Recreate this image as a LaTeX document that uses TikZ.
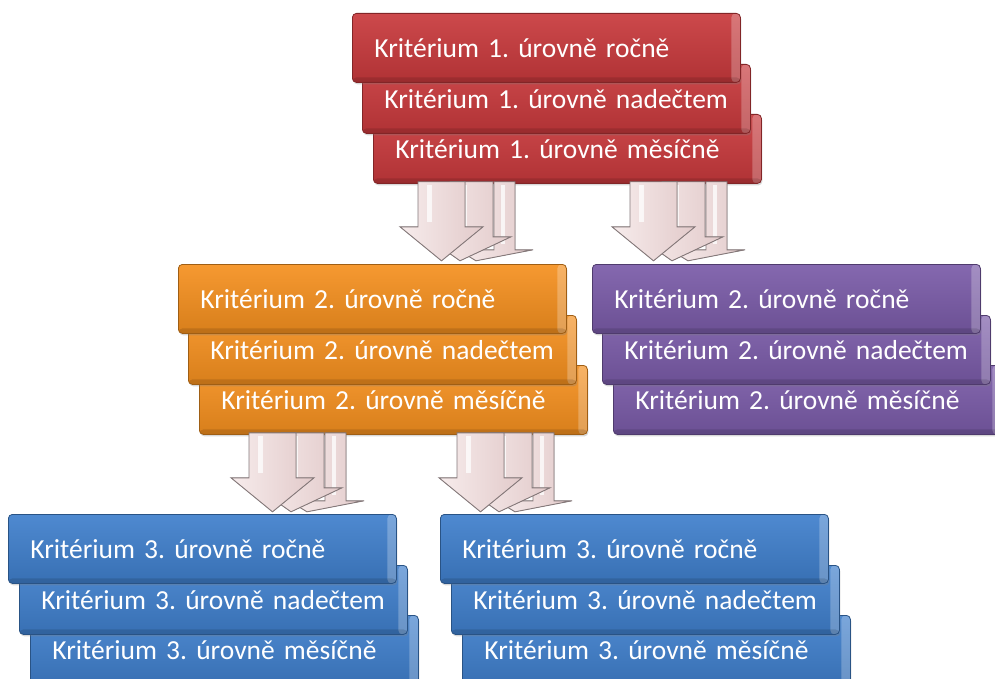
\documentclass[tikz,border=0pt]{standalone}
\usepackage{fontspec}
\setmainfont{Carlito}
\usetikzlibrary{calc,shadows}

% stack colours
\definecolor{critred}{HTML}{C8393C}
\definecolor{critorange}{HTML}{F5901F}
\definecolor{critpurple}{HTML}{7A5BA8}
\definecolor{critblue}{HTML}{3F7FCC}
% block arrow colours
\definecolor{arrowlight}{HTML}{F7ECEC}
\definecolor{arrowmid}{HTML}{E2CACA}
\definecolor{arrowedge}{HTML}{85797A}

\tikzset{
  crit/.style={rectangle, rounded corners=4pt, anchor=north west,
    minimum width=388pt, minimum height=69pt, text width=380pt,
    text height=20pt, text depth=0pt,
    inner xsep=4pt, inner ysep=0pt, align=left, text=white,
    font=\fontsize{27.5}{32}\selectfont,
    execute at begin node={\frenchspacing\hspace*{18pt}},
    draw=#1!65!black, line width=0.8pt,
    top color=#1!92!white, bottom color=#1!88!black,
    drop shadow={opacity=0.3, shadow xshift=1pt, shadow yshift=-2pt},
    path picture={
      \fill[white, opacity=0.25]
        ([xshift=-9pt]path picture bounding box.north east)
        rectangle (path picture bounding box.south east);
      \fill[black, opacity=0.12]
        ([yshift=5pt]path picture bounding box.south west)
        rectangle (path picture bounding box.south east);
    }},
  arrowbody/.style={draw=arrowedge, line width=0.9pt, line join=miter,
    left color=arrowlight, right color=arrowmid},
  arrowshine/.style={fill=white, opacity=0.75},
  % three overlapping downward block arrows
  pics/tripledown/.style={code={
    \filldraw[arrowbody] (76,0) -- (97,0) -- (97,68) -- (115,68)
      -- (58,79) -- (40,68) -- (76,68) -- cycle;
    \fill[arrowshine] (83,3) rectangle (87,62);
    \filldraw[arrowbody] (32,0) -- (75,0) -- (75,55) -- (93,55)
      -- (42,79) -- (8,55) -- (32,55) -- cycle;
    \fill[arrowshine] (44,3) rectangle (49,50);
    \filldraw[arrowbody] (0,0) -- (47,0) -- (47,45) -- (65,45)
      -- (23.5,79) -- (-18,45) -- (0,45) -- cycle;
    \fill[arrowshine] (9,3) rectangle (14,40);
  }},
}

\begin{document}
\begin{tikzpicture}[x=1pt, y=-1pt]
  \useasboundingbox (0,0) rectangle (995,679);
  \fill[white] (0,0) rectangle (995,679);
  \clip (0,0) rectangle (995,679);

  % level 1 (red)
  \node[crit=critred] (r3) at (373,114) {Kritérium 1. úrovně měsíčně};
  \node[crit=critred] (r2) at (362,64) {Kritérium 1. úrovně nadečtem};
  \node[crit=critred] (r1) at (352,13) {Kritérium 1. úrovně ročně};

  % arrows from level 1 to level 2
  \pic at ($(r3.south west)+(45,-2)$) {tripledown};
  \pic at ($(r3.south west)+(257,-2)$) {tripledown};

  % level 2 (orange)
  \node[crit=critorange] (o3) at (199,365) {Kritérium 2. úrovně měsíčně};
  \node[crit=critorange] (o2) at (188,315) {Kritérium 2. úrovně nadečtem};
  \node[crit=critorange] (o1) at (178,264) {Kritérium 2. úrovně ročně};

  % level 2 (purple)
  \node[crit=critpurple] (p3) at (613,365) {Kritérium 2. úrovně měsíčně};
  \node[crit=critpurple] (p2) at (602,315) {Kritérium 2. úrovně nadečtem};
  \node[crit=critpurple] (p1) at (592,264) {Kritérium 2. úrovně ročně};

  % arrows from level 2 to level 3
  \pic at ($(o3.south west)+(50,-2)$) {tripledown};
  \pic at ($(o3.south west)+(258,-2)$) {tripledown};

  % level 3 (blue, left)
  \node[crit=critblue] (b3) at (30,615) {Kritérium 3. úrovně měsíčně};
  \node[crit=critblue] (b2) at (19,565) {Kritérium 3. úrovně nadečtem};
  \node[crit=critblue] (b1) at (8,514) {Kritérium 3. úrovně ročně};

  % level 3 (blue, right)
  \node[crit=critblue] (c3) at (462,615) {Kritérium 3. úrovně měsíčně};
  \node[crit=critblue] (c2) at (451,565) {Kritérium 3. úrovně nadečtem};
  \node[crit=critblue] (c1) at (440,514) {Kritérium 3. úrovně ročně};
\end{tikzpicture}
\end{document}
